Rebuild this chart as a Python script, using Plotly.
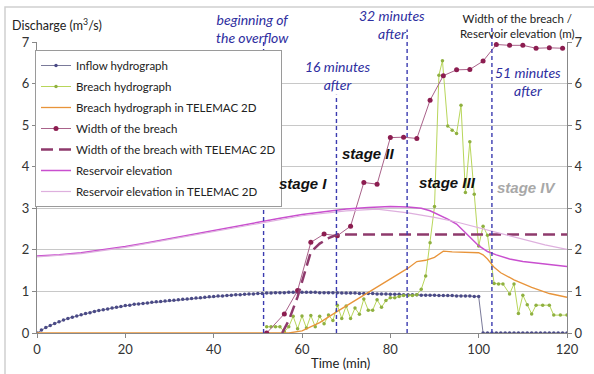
import plotly.graph_objects as go

# ---------------- data ----------------
inflow_t = list(range(0, 121))
inflow_q = [0.00, 0.07, 0.13, 0.18, 0.23, 0.27, 0.31, 0.35, 0.38, 0.41,
            0.44, 0.47, 0.49, 0.52, 0.54, 0.56, 0.58, 0.60, 0.62, 0.64,
            0.66, 0.67, 0.69, 0.70, 0.71, 0.72, 0.74, 0.75, 0.76, 0.77,
            0.78, 0.79, 0.80, 0.81, 0.82, 0.83, 0.84, 0.85, 0.86, 0.87,
            0.88, 0.89, 0.89, 0.90, 0.91, 0.92, 0.92, 0.93, 0.94, 0.94,
            0.95, 0.95, 0.96, 0.96, 0.97, 0.97, 0.97, 0.98, 0.98, 0.98,
            0.98, 0.98, 0.98, 0.98, 0.97, 0.97, 0.97, 0.97, 0.97, 0.96,
            0.96, 0.96, 0.96, 0.95, 0.95, 0.95, 0.95, 0.94, 0.94, 0.94,
            0.93, 0.93, 0.93, 0.92, 0.92, 0.92, 0.92, 0.91, 0.91, 0.91,
            0.91, 0.90, 0.90, 0.90, 0.90, 0.89, 0.89, 0.89, 0.89, 0.88,
            0.88, 0.00, 0.00, 0.00, 0.00, 0.00, 0.00, 0.00, 0.00, 0.00,
            0.00, 0.00, 0.00, 0.00, 0.00, 0.00, 0.00, 0.00, 0.00, 0.00,
            0.00]

breach_t = [52, 53, 54, 55, 56, 57, 58, 59, 60, 61, 62, 63, 64, 65, 66, 67,
            68, 69, 70, 71, 72, 73, 74, 75, 76, 77, 78, 79, 80, 81, 82, 83,
            84, 85, 86, 87, 88, 89, 90, 91, 91.8, 93, 94, 95, 96, 97, 98, 99,
            100, 101, 102, 103.5, 104.5, 105.5, 107, 108, 109, 110, 111, 112,
            113, 114.5, 116, 117, 118.5, 120]
breach_q = [0.15, 0.15, 0.15, 0.15, 0.03, 0.15, 0.40, 0.10, 0.41, 0.12, 0.42,
            0.15, 0.40, 0.22, 0.43, 0.30, 0.67, 0.35, 0.65, 0.35, 0.60, 0.45,
            0.82, 0.55, 0.55, 0.80, 0.62, 0.78, 0.85, 0.85, 0.88, 0.90, 0.90,
            0.90, 0.92, 1.05, 1.37, 2.17, 3.04, 6.20, 6.55, 4.98, 4.88, 4.80,
            5.48, 3.38, 4.60, 3.34, 2.09, 2.57, 2.35, 1.19, 1.18, 1.18, 0.94,
            1.18, 0.47, 0.91, 0.68, 0.46, 0.67, 0.67, 0.67, 0.43, 0.43, 0.43]

tel_t = [0, 57, 60, 64, 68, 72, 76, 80, 84, 86, 88, 90, 92, 94, 96, 98, 100,
         101, 102, 103.5, 105, 108, 112, 116, 120]
tel_q = [0.00, 0.00, 0.05, 0.25, 0.52, 0.78, 1.05, 1.30, 1.56, 1.72, 1.75,
         1.82, 1.97, 1.95, 1.94, 1.93, 1.93, 1.88, 1.78, 1.58, 1.45, 1.28,
         1.10, 0.95, 0.86]

width_t = [52, 56, 59, 62, 65, 68, 71, 74, 77, 80, 83, 86, 89, 92, 95, 98,
           101, 104, 107, 110, 113, 116, 119]
width_b = [0.00, 0.46, 1.02, 2.18, 2.38, 2.34, 2.57, 3.62, 3.58, 4.70, 4.71,
           4.68, 5.60, 6.19, 6.33, 6.34, 6.54, 6.94, 6.92, 6.92, 6.85, 6.86,
           6.85]

wtel_t = [55.5, 57, 59, 61, 62, 64, 66, 68, 120]
wtel_b = [0.00, 0.30, 0.87, 1.60, 1.95, 2.15, 2.28, 2.37, 2.37]

res_t = [0, 5, 10, 15, 20, 25, 30, 35, 40, 45, 50, 55, 60, 65, 70, 75, 80,
         84, 87, 89, 91, 93, 95, 97, 99, 100, 102, 104, 107, 110, 114, 117, 120]
res_h = [1.85, 1.88, 1.93, 2.00, 2.08, 2.17, 2.27, 2.37, 2.47, 2.57, 2.66,
         2.76, 2.85, 2.92, 2.98, 3.02, 3.04, 3.03, 3.00, 2.94, 2.84, 2.74,
         2.62, 2.42, 2.22, 2.10, 1.96, 1.88, 1.78, 1.72, 1.67, 1.63, 1.60]

rtel_t = [0, 10, 20, 30, 40, 50, 60, 70, 77, 84, 90, 95, 100, 105, 110, 115, 120]
rtel_h = [1.83, 1.91, 2.06, 2.25, 2.45, 2.64, 2.82, 2.94, 2.98, 2.89, 2.78,
          2.67, 2.53, 2.39, 2.25, 2.12, 2.01]

event_t = [51.3, 67.8, 83.8, 103.0]
event_text = ["beginning of<br>the overflow", "16 minutes<br>after",
              "32 minutes<br>after", "51 minutes<br>after"]

stage_text = ["stage I", "stage II", "stage III", "stage IV"]
stage_t = [60.2, 75.0, 93.0, 111.0]
stage_y = [3.6, 4.31, 3.61, 3.51]

x_ticks = [0, 20, 40, 60, 80, 100, 120]
y_ticks = [0, 1, 2, 3, 4, 5, 6, 7]

# ---------------- layout helpers ----------------
W, H = 594, 374
L, R, T, B = 37, 567, 42, 333


def px(x):
    return (x - L) / (R - L)


def py(y):
    return (B - y) / (B - T)


FONT = "Lato"
fig = go.Figure()

fig.add_trace(go.Scatter(x=inflow_t, y=inflow_q, name="Inflow hydrograph",
                         mode="lines+markers", legendgroup="g1",
                         line=dict(color="#7a7a9a", width=1),
                         marker=dict(color="#4a4a86", size=3.5)))
fig.add_trace(go.Scatter(x=breach_t, y=breach_q, name="Breach hydrograph",
                         mode="lines+markers", legendgroup="g2",
                         line=dict(color="#b8d65a", width=1),
                         marker=dict(color="#8fb040", size=3.5)))
fig.add_trace(go.Scatter(x=tel_t, y=tel_q, name="Breach hydrograph in TELEMAC 2D",
                         mode="lines", legendgroup="g3",
                         line=dict(color="#e8943a", width=1.3)))
fig.add_trace(go.Scatter(x=width_t, y=width_b, name="Width of the breach",
                         mode="lines+markers", yaxis="y2", legendgroup="g4",
                         line=dict(color="#a9628a", width=1),
                         marker=dict(color="#8c1d50", size=5)))
fig.add_trace(go.Scatter(x=wtel_t, y=wtel_b, name="Width of the breach with TELEMAC 2D",
                         mode="lines", yaxis="y2", legendgroup="g5",
                         line=dict(color="#8e3a6c", width=2.5, dash="12px,6px")))
fig.add_trace(go.Scatter(x=res_t, y=res_h, name="Reservoir elevation",
                         mode="lines", yaxis="y2", legendgroup="g6",
                         line=dict(color="#c94fcf", width=1.5)))
fig.add_trace(go.Scatter(x=rtel_t, y=rtel_h, name="Reservoir elevation in TELEMAC 2D",
                         mode="lines", yaxis="y2", legendgroup="g7",
                         line=dict(color="#deb0de", width=1.2)))

# event vertical lines
event_top = [7.0, 5.73, 7.3, 7.4]
shapes = []
for t, top in zip(event_t, event_top):
    shapes.append(dict(type="line", xref="x", yref="paper", x0=t, x1=t,
                       y0=0, y1=top / 7.0,
                       line=dict(color="#3b3bb0", width=1.4, dash="4px,3px")))
# outer frame
shapes.append(dict(type="rect", xref="paper", yref="paper",
                   x0=px(5), x1=px(620), y0=py(7), y1=py(400),
                   line=dict(color="#d0d0d0", width=1.5)))

annotations = []
ev_pos = [(252, 28.5), (337, 75.5), (392, 25), (528, 81)]
for txt, (ax_, ay_) in zip(event_text, ev_pos):
    annotations.append(dict(text="<i>" + txt + "</i>", xref="paper", yref="paper",
                            x=px(ax_), y=py(ay_), showarrow=False,
                            xanchor="center", yanchor="middle",
                            font=dict(family=FONT, size=14, color="#2e2ea0")))
for txt, t, y in zip(stage_text, stage_t, stage_y):
    col = "#a8a8a8" if txt == "stage IV" else "#111111"
    annotations.append(dict(text="<b><i>" + txt + "</i></b>", x=t, y=y,
                            xref="x", yref="y", showarrow=False,
                            font=dict(family="Liberation Sans", size=15, color=col)))
annotations.append(dict(text="Discharge (m<sup>3</sup>/s)", xref="paper", yref="paper",
                        x=px(10), y=py(25), xanchor="left", yanchor="middle",
                        showarrow=False, font=dict(family=FONT, size=12.5, color="#222222")))
annotations.append(dict(text="Width of the breach /<br>Reservoir elevation (m)",
                        xref="paper", yref="paper", x=px(517), y=py(26),
                        xanchor="center", yanchor="middle", showarrow=False,
                        font=dict(family=FONT, size=11.5, color="#222222")))
annotations.append(dict(text="Time (min)", xref="paper", yref="paper",
                        x=px(340), y=py(363), xanchor="center", yanchor="middle",
                        showarrow=False, font=dict(family=FONT, size=13, color="#222222")))

axis_common = dict(range=[0, 7], tickvals=y_ticks, ticks="outside", ticklen=4,
                   tickcolor="#888888", showline=True, linecolor="#888888",
                   linewidth=1, tickfont=dict(family=FONT, size=13, color="#333333"),
                   zeroline=False)

fig.update_layout(
    width=W, height=H,
    margin=dict(l=L, r=W - R, t=T, b=H - B),
    paper_bgcolor="white", plot_bgcolor="white",
    showlegend=True,
    legend=dict(x=px(35), y=py(50), xanchor="left", yanchor="top",
                bgcolor="white", bordercolor="#9a9a9a", borderwidth=1,
                font=dict(family=FONT, size=11.5, color="#222222"),
                tracegroupgap=2, itemwidth=30),
    xaxis=dict(range=[0, 120], tickvals=x_ticks, ticks="outside", ticklen=4,
               tickcolor="#888888", showline=True, linecolor="#888888",
               showgrid=False, zeroline=False,
               tickfont=dict(family=FONT, size=13, color="#333333")),
    yaxis=dict(**axis_common, showgrid=True, gridcolor="#c8c8c8"),
    yaxis2=dict(**axis_common, overlaying="y", side="right", showgrid=False),
    shapes=shapes,
    annotations=annotations,
)

fig.write_html("out.html")
